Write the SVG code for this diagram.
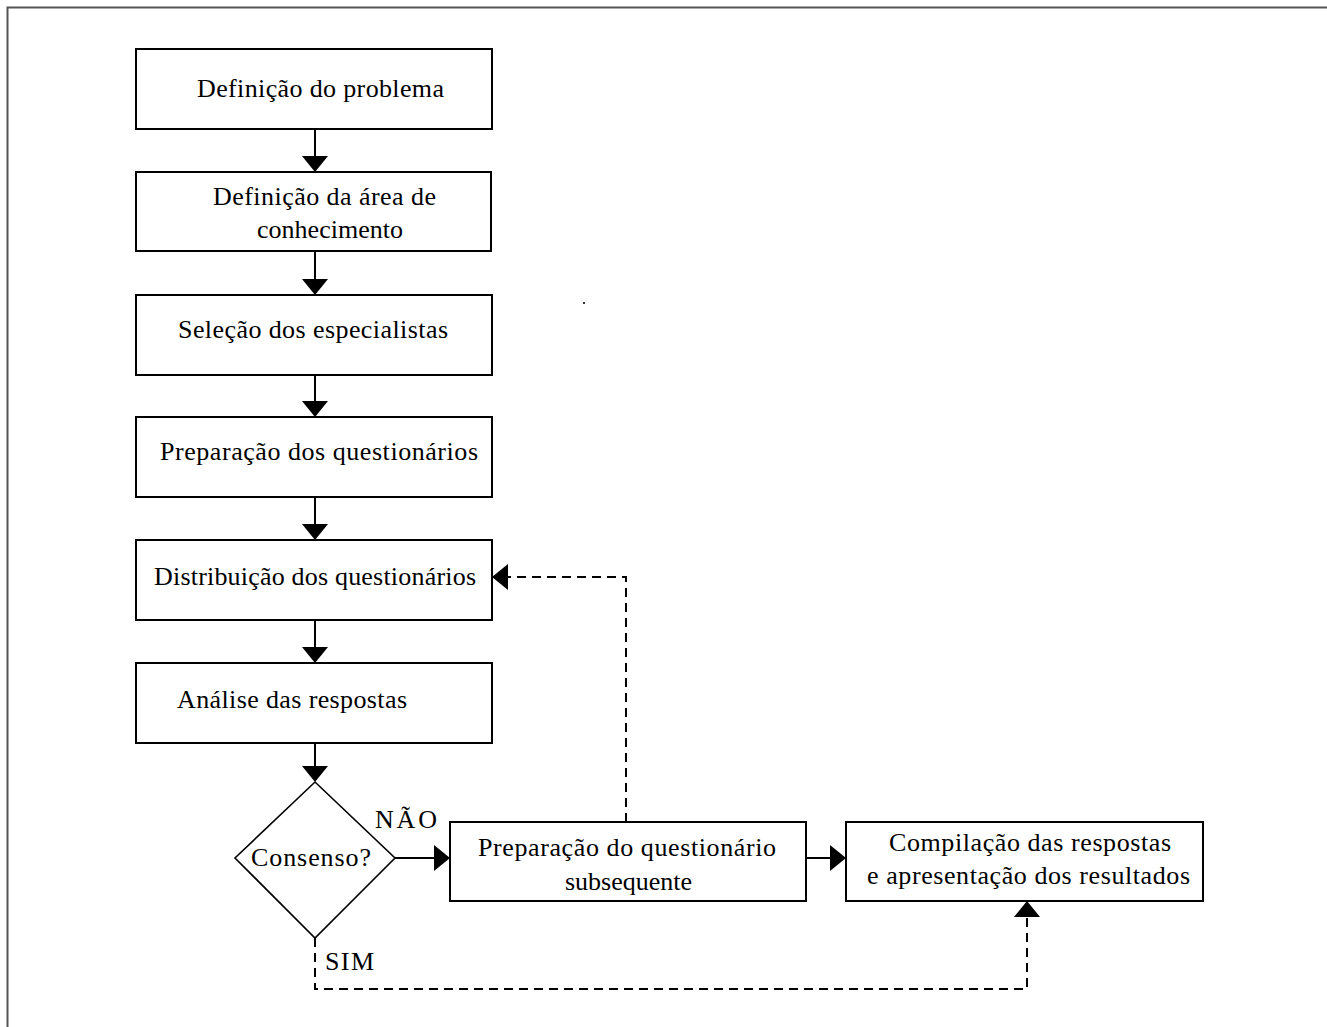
<svg xmlns="http://www.w3.org/2000/svg" width="1327" height="1027" viewBox="0 0 1327 1027">
<style>
.box{fill:#fff;stroke:#000;stroke-width:2}
.dia{fill:#fff;stroke:#000;stroke-width:1.6}
.t{font-family:"Liberation Serif","Times New Roman",serif;font-size:26px;fill:#000}
.ln{stroke:#000;stroke-width:2;fill:none}
.dash{stroke:#000;stroke-width:2;fill:none;stroke-dasharray:9 6}
.ah{fill:#000}
</style>
<rect width="1327" height="1027" fill="#fff"/>
<path d="M7.5,1027 V7.5 H1327" fill="none" stroke="#555" stroke-width="2"/>
<g id="n1"><rect class="box" x="136" y="49" width="356" height="80"/><text class="t" x="197" y="97" textLength="247" lengthAdjust="spacing">Definição do problema</text></g>
<g id="n2"><rect class="box" x="136" y="172" width="355" height="79"/><text class="t" x="213" y="205" textLength="223" lengthAdjust="spacing">Definição da área de</text><text class="t" x="257" y="238" textLength="146" lengthAdjust="spacing">conhecimento</text></g>
<g id="n3"><rect class="box" x="136" y="295" width="356" height="80"/><text class="t" x="178" y="338" textLength="270" lengthAdjust="spacing">Seleção dos especialistas</text></g>
<g id="n4"><rect class="box" x="136" y="417" width="356" height="80"/><text class="t" x="160" y="460" textLength="318" lengthAdjust="spacing">Preparação dos questionários</text></g>
<g id="n5"><rect class="box" x="136" y="540" width="356" height="80"/><text class="t" x="154" y="585" textLength="322" lengthAdjust="spacing">Distribuição dos questionários</text></g>
<g id="n6"><rect class="box" x="136" y="663" width="356" height="80"/><text class="t" x="177" y="708" textLength="230" lengthAdjust="spacing">Análise das respostas</text></g>
<g id="n7"><polygon class="dia" points="315,782 395,858 315,938 235,858"/><text class="t" x="251" y="866" textLength="120" lengthAdjust="spacing">Consenso?</text></g>
<g id="n8"><rect class="box" x="450" y="822" width="356" height="79"/><text class="t" x="478" y="856" textLength="298" lengthAdjust="spacing">Preparação do questionário</text><text class="t" x="565" y="890">subsequente</text></g>
<g id="n9"><rect class="box" x="846" y="822" width="357" height="79"/><text class="t" x="889" y="851" textLength="282" lengthAdjust="spacing">Compilação das respostas</text><text class="t" x="867" y="884" textLength="323" lengthAdjust="spacing">e apresentação dos resultados</text></g>
<g id="connectors">
<line class="ln" x1="315" y1="129" x2="315" y2="158"/><polygon class="ah" points="302,156 328,156 315,172"/>
<line class="ln" x1="315" y1="251" x2="315" y2="281"/><polygon class="ah" points="302,279 328,279 315,295"/>
<line class="ln" x1="315" y1="375" x2="315" y2="403"/><polygon class="ah" points="302,401 328,401 315,417"/>
<line class="ln" x1="315" y1="497" x2="315" y2="526"/><polygon class="ah" points="302,524 328,524 315,540"/>
<line class="ln" x1="315" y1="620" x2="315" y2="649"/><polygon class="ah" points="302,647 328,647 315,663"/>
<line class="ln" x1="315" y1="743" x2="315" y2="768"/><polygon class="ah" points="302,766 328,766 315,782"/>
<line class="ln" x1="395" y1="858" x2="436" y2="858"/><polygon class="ah" points="434,845 434,871 450,858"/>
<line class="ln" x1="806" y1="858" x2="832" y2="858"/><polygon class="ah" points="830,845 830,871 846,858"/>
<path class="dash" d="M626,822 V577 H506"/><polygon class="ah" points="508,564 508,590 492,577"/>
<path class="dash" d="M315,938 V989 H1027 V915"/><polygon class="ah" points="1014,917 1040,917 1027,901"/>
<text class="t" x="375" y="828" textLength="62" lengthAdjust="spacing">NÃO</text>
<text class="t" x="325" y="970" textLength="49" lengthAdjust="spacing">SIM</text>
</g>
<rect x="583" y="302" width="2" height="2" fill="#333"/>
</svg>
